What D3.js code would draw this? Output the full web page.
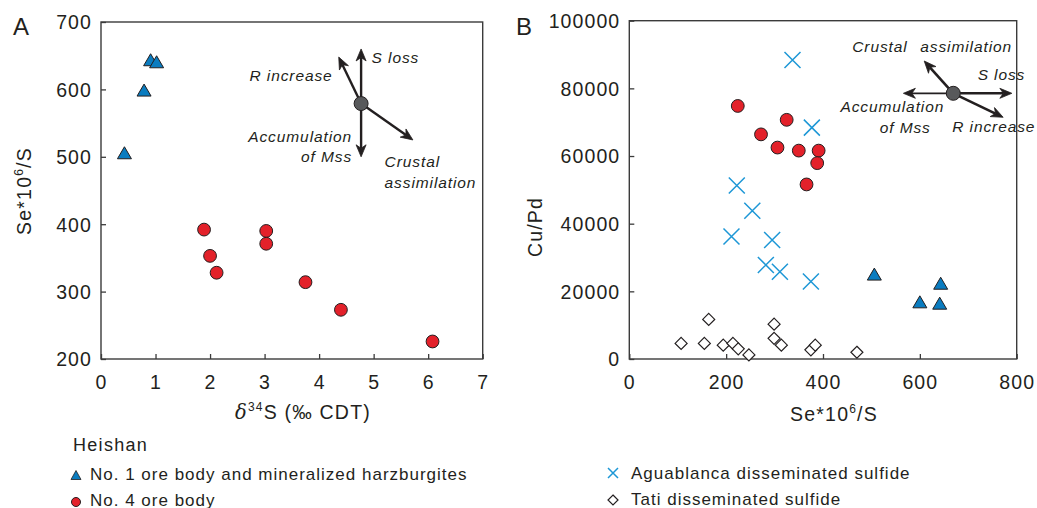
<!DOCTYPE html>
<html><head><meta charset="utf-8">
<script src="https://cdn.jsdelivr.net/npm/d3@7"></script>
<style>
html,body{margin:0;padding:0;background:#fff;}
text{font-family:"Liberation Sans",Arial,Helvetica,sans-serif;fill:#231f20;}
</style></head>
<body>
<svg id="c" width="1037" height="508"></svg>
<script>
// ---------- DATA ----------
// Panel A: delta34S vs Se*10^6/S
const triA_x = [0.43, 0.79, 0.91, 1.02];
const triA_y = [506, 599, 644, 641];
const circA_x = [1.89, 2.00, 2.12, 3.03, 3.03, 3.75, 4.40, 6.08];
const circA_y = [392, 353, 328, 390, 371, 314, 273, 226];
const xTicksA = [0, 1, 2, 3, 4, 5, 6, 7];
const yTicksA = [200, 300, 400, 500, 600, 700];

// Panel B: Se*10^6/S vs Cu/Pd
const triB_x = [506, 600, 643, 641];
const triB_y = [25100, 16900, 22400, 16500];
const circB_x = [224, 272, 306, 325, 350, 391, 388, 366];
const circB_y = [74800, 66400, 62500, 70700, 61600, 61600, 57900, 51600];
const crossB_x = [337, 377, 222, 254, 211, 295, 282, 311, 375];
const crossB_y = [88400, 68400, 51300, 43800, 36200, 35200, 27800, 25800, 22900];
const diaB_x = [107, 155, 164, 194, 214, 225, 247, 299, 299, 314, 375, 384, 470];
const diaB_y = [4600, 4600, 11700, 4100, 4600, 3000, 1200, 10300, 6100, 4100, 2700, 4100, 2000];
const xTicksB = [0, 200, 400, 600, 800];
const yTicksB = [0, 20000, 40000, 60000, 80000, 100000];

// Legend
const legendTitle = "Heishan";
const legendLabels = ["No. 1 ore body and mineralized harzburgites", "No. 4 ore body",
                      "Aguablanca disseminated sulfide", "Tati disseminated sulfide"];

// Process vectors (data coordinates)
const vecA_center = [4.77, 579];
const vecA_ends = [[4.77, 660], [4.77, 500], [4.36, 648], [5.72, 525]];
const vecB_center = [669, 78540];
const vecB_ends = [[790, 78540], [566, 78540], [609, 88090], [772, 71450]];

// ---------- STYLE ----------
const INK = "#231f20", AX = "#3b3b3b";
const BLUE = "#0a7cc0", RED = "#e3212a", CROSS = "#1d97d6";
const tickFont = 19.5, ls = "1.1px";

const svg = d3.select("#c");

function triPath(cx, cy, w, h) {
  return `M${cx},${cy - h/2}L${cx + w/2},${cy + h/2}L${cx - w/2},${cy + h/2}Z`;
}
function drawTri(g, x, y) {
  g.append("path").attr("d", triPath(x, y, 14, 12)).attr("fill", BLUE)
    .attr("stroke", INK).attr("stroke-width", 1).attr("stroke-linejoin", "miter");
}
function drawCirc(g, x, y, r = 6.4) {
  g.append("circle").attr("cx", x).attr("cy", y).attr("r", r).attr("fill", RED)
    .attr("stroke", INK).attr("stroke-width", 1);
}
function drawCross(g, x, y, s = 8) {
  g.append("path").attr("d", `M${x - s},${y - s}L${x + s},${y + s}M${x - s},${y + s}L${x + s},${y - s}`)
    .attr("stroke", CROSS).attr("stroke-width", 1.5).attr("fill", "none");
}
function drawDia(g, x, y, s = 6) {
  g.append("path").attr("d", `M${x},${y - s}L${x + s},${y}L${x},${y + s}L${x - s},${y}Z`)
    .attr("stroke", INK).attr("stroke-width", 1.2).attr("fill", "#fff");
}

function frame(g, xs, ys, xt, yt) {
  const [x0, x1] = xs.range(), [y0, y1] = ys.range();
  g.append("rect").attr("x", x0).attr("y", y1).attr("width", x1 - x0).attr("height", y0 - y1)
    .attr("fill", "none").attr("stroke", AX).attr("stroke-width", 1.4);
  const ax = d3.axisBottom(xs).tickValues(xt).tickSize(-5).tickFormat(d3.format("d")).tickPadding(10);
  const ay = d3.axisLeft(ys).tickValues(yt).tickSize(-5).tickFormat(d3.format("d")).tickPadding(10);
  const gx = g.append("g").attr("transform", `translate(0,${y0})`).call(ax);
  const gy = g.append("g").attr("transform", `translate(${x0},0)`).call(ay);
  [gx, gy].forEach(a => {
    a.select(".domain").remove();
    a.selectAll(".tick line").attr("stroke", AX).attr("stroke-width", 1.3);
    a.selectAll(".tick text").attr("font-size", tickFont).attr("font-family", "Liberation Sans, Arial, sans-serif")
      .attr("fill", INK).style("letter-spacing", ls);
  });
  gx.selectAll(".tick text").attr("dy", "0.72em").attr("y", 16);
  gy.selectAll(".tick text").attr("dy", "0.35em").attr("x", -9);
}

function arrow(g, x0, y0, x1, y1, w = 2.4) {
  const dx = x1 - x0, dy = y1 - y0, L = Math.hypot(dx, dy);
  const ux = dx / L, uy = dy / L, px = -uy, py = ux;
  const hl = 12, hw = 5, notch = 3.5;
  g.append("line").attr("x1", x0).attr("y1", y0)
    .attr("x2", x1 - ux * (hl - notch)).attr("y2", y1 - uy * (hl - notch))
    .attr("stroke", INK).attr("stroke-width", w);
  const bx = x1 - ux * hl, by = y1 - uy * hl;
  const nx = x1 - ux * (hl - notch), ny = y1 - uy * (hl - notch);
  g.append("path").attr("d",
    `M${x1},${y1}L${bx + px * hw},${by + py * hw}L${nx},${ny}L${bx - px * hw},${by - py * hw}Z`)
    .attr("fill", INK).attr("stroke", INK).attr("stroke-width", 0.8).attr("stroke-linejoin", "miter");
}
function label(g, x, y, t, anchor, size = 15.5) {
  g.append("text").attr("x", x).attr("y", y).attr("text-anchor", anchor)
    .attr("dominant-baseline", "central").attr("font-size", size).attr("font-style", "italic")
    .style("letter-spacing", "0.9px").text(t);
}

// ---------- PANEL A ----------
const gA = svg.append("g");
const xA = d3.scaleLinear().domain([0, 7]).range([101, 482.7]);
const yA = d3.scaleLinear().domain([200, 700]).range([359, 22]);
frame(gA, xA, yA, xTicksA, yTicksA);
triA_x.forEach((v, i) => drawTri(gA, xA(v), yA(triA_y[i])));
circA_x.forEach((v, i) => drawCirc(gA, xA(v), yA(circA_y[i])));

// vectors A
{
  const cx = xA(vecA_center[0]), cy = yA(vecA_center[1]);
  vecA_ends.forEach(e => arrow(gA, cx, cy, xA(e[0]), yA(e[1])));
  gA.append("circle").attr("cx", cx).attr("cy", cy).attr("r", 7).attr("fill", "#58595b")
    .attr("stroke", INK).attr("stroke-width", 1);
  label(gA, cx + 10.5, cy - 46, "S loss", "start");
  label(gA, cx - 28.5, cy - 28, "R increase", "end");
  label(gA, cx - 9, cy + 33, "Accumulation", "end");
  label(gA, cx - 9, cy + 53, "of Mss", "end");
  label(gA, cx + 23.5, cy + 58, "Crustal", "start");
  label(gA, cx + 23.5, cy + 79, "assimilation", "start");
}

// axis titles A
gA.append("text").attr("x", 21).attr("y", 26).attr("font-size", 24).attr("dominant-baseline", "central")
  .attr("text-anchor", "middle").text("A");
{
  const t = gA.append("text").attr("transform", "translate(31,191) rotate(-90)")
    .attr("text-anchor", "middle").attr("font-size", 19.5).style("letter-spacing", "1.2px");
  t.append("tspan").text("Se*10");
  t.append("tspan").attr("font-size", 12).attr("dy", -8).text("6");
  t.append("tspan").attr("dy", 8).text("/S");
}
{
  const t = gA.append("text").attr("x", 303).attr("y", 419)
    .attr("text-anchor", "middle").attr("font-size", 19.5).style("letter-spacing", "1.2px");
  t.append("tspan").attr("font-style", "italic").attr("font-family", "DejaVu Serif, serif").text("δ");
  t.append("tspan").attr("font-size", 12).attr("dy", -8).text("34");
  t.append("tspan").attr("dy", 8).text("S (‰ CDT)");
}

// ---------- PANEL B ----------
const gB = svg.append("g");
const xB = d3.scaleLinear().domain([0, 800]).range([629.3, 1016.7]);
const yB = d3.scaleLinear().domain([0, 100000]).range([359, 20.7]);
frame(gB, xB, yB, xTicksB, yTicksB);
diaB_x.forEach((v, i) => drawDia(gB, xB(v), yB(diaB_y[i])));
crossB_x.forEach((v, i) => drawCross(gB, xB(v), yB(crossB_y[i])));
circB_x.forEach((v, i) => drawCirc(gB, xB(v), yB(circB_y[i])));
triB_x.forEach((v, i) => drawTri(gB, xB(v), yB(triB_y[i])));

{
  const cx = xB(vecB_center[0]), cy = yB(vecB_center[1]);
  vecB_ends.forEach((e, i) => arrow(gB, cx, cy, xB(e[0]), yB(e[1]), i === 1 ? 1.8 : 2.6));
  gB.append("circle").attr("cx", cx).attr("cy", cy).attr("r", 7).attr("fill", "#58595b")
    .attr("stroke", INK).attr("stroke-width", 1);
  label(gB, cx - 101, cy - 47, "Crustal", "start");
  label(gB, cx - 33, cy - 47, "assimilation", "start");
  label(gB, cx + 72, cy - 19, "S loss", "end");
  label(gB, cx - 9, cy + 13.5, "Accumulation", "end");
  label(gB, cx - 22.5, cy + 34.5, "of Mss", "end");
  label(gB, cx - 1, cy + 33.5, "R increase", "start");
}

gB.append("text").attr("x", 524).attr("y", 26).attr("font-size", 24).attr("dominant-baseline", "central")
  .attr("text-anchor", "middle").text("B");
gB.append("text").attr("transform", "translate(542,227) rotate(-90)")
  .attr("text-anchor", "middle").attr("font-size", 19.5).style("letter-spacing", "1.2px").text("Cu/Pd");
{
  const t = gB.append("text").attr("x", 834).attr("y", 421)
    .attr("text-anchor", "middle").attr("font-size", 19.5).style("letter-spacing", "1.2px");
  t.append("tspan").text("Se*10");
  t.append("tspan").attr("font-size", 12).attr("dy", -8).text("6");
  t.append("tspan").attr("dy", 8).text("/S");
}

// ---------- LEGEND ----------
const gL = svg.append("g");
gL.append("text").attr("x", 73).attr("y", 445).attr("dominant-baseline", "central")
  .attr("font-size", 18).style("letter-spacing", "1.3px").text(legendTitle);
const legPos = [[76, 474, 90], [76, 500, 90], [613, 473, 631], [613, 499, 631]];
legendLabels.forEach((t, i) => {
  const [mx, my, tx] = legPos[i];
  if (i === 0) gL.append("path").attr("d", triPath(mx, my + 1, 10, 9)).attr("fill", BLUE).attr("stroke", INK).attr("stroke-width", 0.8);
  if (i === 1) drawCirc(gL, mx, my + 2, 4.5);
  if (i === 2) drawCross(gL, mx, my, 5);
  if (i === 3) drawDia(gL, mx, my + 1, 5);
  gL.append("text").attr("x", tx).attr("y", my).attr("dominant-baseline", "central")
    .attr("font-size", 17).style("letter-spacing", "1px").text(t);
});
</script>
</body></html>
